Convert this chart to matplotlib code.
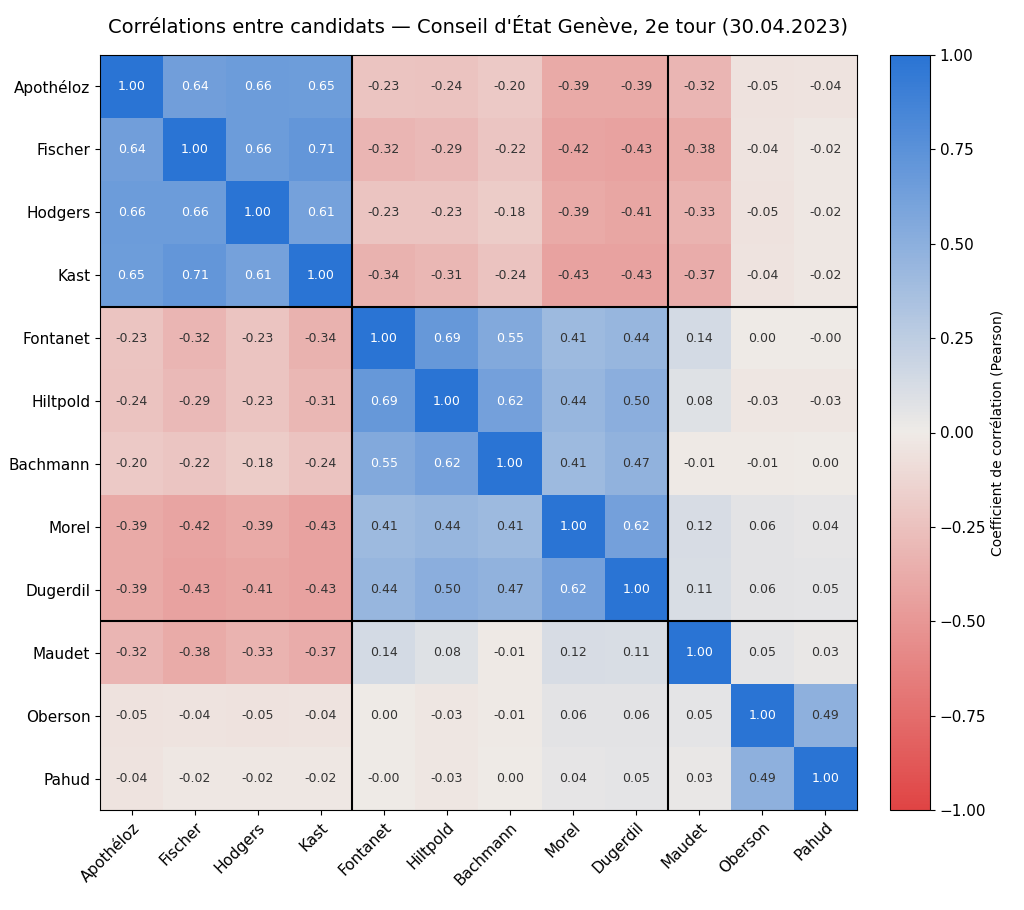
import numpy as np
import matplotlib
matplotlib.use("Agg")
import matplotlib.pyplot as plt
from matplotlib.colors import LinearSegmentedColormap

names = ["Apothéloz","Fischer","Hodgers","Kast","Fontanet","Hiltpold","Bachmann","Morel","Dugerdil","Maudet","Oberson","Pahud"]
r_apotheloz = [1.00,0.64,0.66,0.65,-0.23,-0.24,-0.20,-0.39,-0.39,-0.32,-0.05,-0.04]
r_fischer   = [0.64,1.00,0.66,0.71,-0.32,-0.29,-0.22,-0.42,-0.43,-0.38,-0.04,-0.02]
r_hodgers   = [0.66,0.66,1.00,0.61,-0.23,-0.23,-0.18,-0.39,-0.41,-0.33,-0.05,-0.02]
r_kast      = [0.65,0.71,0.61,1.00,-0.34,-0.31,-0.24,-0.43,-0.43,-0.37,-0.04,-0.02]
r_fontanet  = [-0.23,-0.32,-0.23,-0.34,1.00,0.69,0.55,0.41,0.44,0.14,0.001,-0.001]
r_hiltpold  = [-0.24,-0.29,-0.23,-0.31,0.69,1.00,0.62,0.44,0.50,0.08,-0.03,-0.03]
r_bachmann  = [-0.20,-0.22,-0.18,-0.24,0.55,0.62,1.00,0.41,0.47,-0.01,-0.01,0.001]
r_morel     = [-0.39,-0.42,-0.39,-0.43,0.41,0.44,0.41,1.00,0.62,0.12,0.06,0.04]
r_dugerdil  = [-0.39,-0.43,-0.41,-0.43,0.44,0.50,0.47,0.62,1.00,0.11,0.06,0.05]
r_maudet    = [-0.32,-0.38,-0.33,-0.37,0.14,0.08,-0.01,0.12,0.11,1.00,0.05,0.03]
r_oberson   = [-0.05,-0.04,-0.05,-0.04,0.001,-0.03,-0.01,0.06,0.06,0.05,1.00,0.49]
r_pahud     = [-0.04,-0.02,-0.02,-0.02,-0.001,-0.03,0.001,0.04,0.05,0.03,0.49,1.00]
M = np.array([r_apotheloz,r_fischer,r_hodgers,r_kast,r_fontanet,r_hiltpold,r_bachmann,
              r_morel,r_dugerdil,r_maudet,r_oberson,r_pahud])
groups = [3.5, 8.5]

cmap = LinearSegmentedColormap.from_list("c", ["#e04444", "#efebe7", "#2a74d4"])
fig = plt.figure(figsize=(10.24, 9.10), dpi=100)
ax = fig.add_axes([100/1024, 100/910, 757/1024, 755/910])
cax = fig.add_axes([890/1024, 100/910, 40/1024, 755/910])
im = ax.imshow(M, cmap=cmap, vmin=-1, vmax=1, aspect="auto")
n = len(names)
for i in range(n):
    for j in range(n):
        v = M[i, j]
        ax.text(j, i, f"{v:.2f}", ha="center", va="center", fontsize=9,
                color="white" if v > 0.5 else "#333333")
for g in groups:
    ax.axhline(g, color="black", lw=1.5)
    ax.axvline(g, color="black", lw=1.5)
ax.set_xticks(range(n))
ax.set_xticklabels(names, rotation=45, ha="right", rotation_mode="anchor", fontsize=11)
ax.set_yticks(range(n))
ax.set_yticklabels(names, fontsize=11)
ax.set_title("Corrélations entre candidats — Conseil d'État Genève, 2e tour (30.04.2023)",
             fontsize=14, pad=16)
cb = fig.colorbar(im, cax=cax, ticks=[-1, -0.75, -0.5, -0.25, 0, 0.25, 0.5, 0.75, 1])
cb.ax.tick_params(labelsize=11)
cb.set_label("Coefficient de corrélation (Pearson)", fontsize=10)
fig.savefig("out.png", dpi=100)
